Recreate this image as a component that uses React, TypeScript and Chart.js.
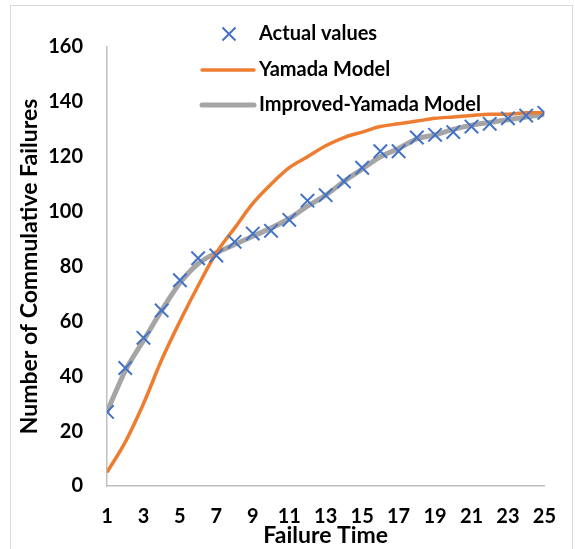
import React, { useEffect, useRef } from "react";
import { Chart, registerables } from "chart.js";

Chart.register(...registerables);

const failureTimes = [1, 2, 3, 4, 5, 6, 7, 8, 9, 10, 11, 12, 13, 14, 15, 16, 17, 18, 19, 20, 21, 22, 23, 24, 25];
const actualValues = [27, 43, 54, 64, 75, 83, 84, 89, 92, 93, 97, 104, 106, 111, 116, 122, 122, 127, 128, 129, 131, 132, 134, 135, 136];
const yamadaModel = [5, 16, 30, 46, 60, 73, 85, 94, 103, 110, 116, 120, 124, 127, 129, 131, 132, 133, 134, 134.5, 135, 135.5, 135.5, 136, 136];
const improvedYamada = [27, 42, 53, 64, 74, 81, 85, 88, 91, 94, 97.5, 102, 106, 111, 115.5, 120, 123, 126.5, 128, 130, 131.5, 132.5, 133.5, 134.5, 135.5];
const seriesNames = ["Actual values", "Yamada Model", "Improved-Yamada Model"];
const yTitle = "Number of Commulative Failures";
const xTitle = "Failure Time";

const FONT = "Lato";
const BLUE = "#4472C4";
const ORANGE = "#ED7D31";
const GRAY = "#A5A5A5";

const toPoints = (ys: number[]) => failureTimes.map((x, i) => ({ x, y: ys[i] }));

const legendPlugin = {
  id: "insideLegend",
  afterDraw(chart: any) {
    const ctx = chart.ctx;
    const rows = [34, 70, 105];
    const lineX0 = 202;
    const lineX1 = 254;
    const textX = 259;
    ctx.save();
    chart.data.datasets.forEach((ds: any, i: number) => {
      const y = rows[i];
      if (ds.showLine === false) {
        const cx = (lineX0 + lineX1) / 2 + 1;
        const r = 6.5;
        ctx.strokeStyle = ds.pointBorderColor || ds.borderColor;
        ctx.lineWidth = ds.pointBorderWidth || 2;
        ctx.beginPath();
        ctx.moveTo(cx - r, y - r);
        ctx.lineTo(cx + r, y + r);
        ctx.moveTo(cx + r, y - r);
        ctx.lineTo(cx - r, y + r);
        ctx.stroke();
      } else {
        ctx.strokeStyle = ds.borderColor;
        ctx.lineWidth = ds.borderWidth;
        ctx.lineCap = "round";
        ctx.beginPath();
        ctx.moveTo(lineX0, y);
        ctx.lineTo(lineX1, y);
        ctx.stroke();
      }
      ctx.fillStyle = "#000";
      ctx.font = `bold 20px ${FONT}`;
      ctx.textAlign = "left";
      ctx.textBaseline = "middle";
      ctx.fillText(ds.label, textX, y);
    });
    ctx.restore();
  },
};

export default function App() {
  const canvasRef = useRef<HTMLCanvasElement | null>(null);

  useEffect(() => {
    const canvas = canvasRef.current;
    if (!canvas) return;
    const chart = new Chart(canvas, {
      type: "line",
      data: {
        datasets: [
          {
            label: seriesNames[0],
            data: toPoints(actualValues),
            showLine: false,
            borderColor: BLUE,
            backgroundColor: BLUE,
            pointStyle: "crossRot",
            pointRadius: 9.5,
            pointBorderWidth: 2,
            pointBorderColor: BLUE,
          },
          {
            label: seriesNames[1],
            data: toPoints(yamadaModel),
            borderColor: ORANGE,
            backgroundColor: ORANGE,
            borderWidth: 3.5,
            pointRadius: 0,
            tension: 0.4,
            cubicInterpolationMode: "monotone",
          },
          {
            label: seriesNames[2],
            data: toPoints(improvedYamada),
            borderColor: GRAY,
            backgroundColor: GRAY,
            borderWidth: 5,
            pointRadius: 0,
            tension: 0.4,
            cubicInterpolationMode: "monotone",
          },
        ],
      },
      options: {
        animation: false,
        responsive: false,
        maintainAspectRatio: false,
        layout: { padding: { top: 47, right: 28, bottom: 0, left: 0 } },
        plugins: { legend: { display: false }, tooltip: { enabled: false } },
        scales: {
          x: {
            type: "linear",
            min: 1,
            max: 25,
            grid: { display: false, drawTicks: false },
            border: { display: true, color: "#BFBFBF", width: 1.5 },
            ticks: {
              stepSize: 2,
              padding: 19,
              color: "#000",
              font: { family: FONT, size: 20, weight: "bold" },
              maxRotation: 0,
            },
            title: {
              display: true,
              text: xTitle,
              color: "#000",
              font: { family: FONT, size: 23, weight: "bold" },
              padding: { top: 0, bottom: 0 },
            },
            afterFit: (s: any) => {
              s.height = 63;
            },
          },
          y: {
            type: "linear",
            min: 0,
            max: 160,
            grid: { display: false, drawTicks: false },
            border: { display: true, color: "#BFBFBF", width: 1.5 },
            ticks: {
              stepSize: 20,
              padding: 24,
              color: "#000",
              font: { family: FONT, size: 20, weight: "bold" },
            },
            title: {
              display: true,
              text: yTitle,
              color: "#000",
              font: { family: FONT, size: 23, weight: "bold" },
              padding: { top: 16, bottom: 0 },
            },
            afterFit: (s: any) => {
              s.width = 107;
            },
          },
        },
      },
      plugins: [legendPlugin],
    });
    return () => chart.destroy();
  }, []);

  return (
    <div style={{ position: "absolute", left: 0, top: 0, width: 575, height: 549, background: "#fff" }}>
      <div
        style={{
          position: "absolute",
          left: 10,
          top: 5,
          width: 563,
          height: 550,
          border: "1px solid #D9D9D9",
          boxSizing: "border-box",
        }}
      />
      <canvas ref={canvasRef} width={575} height={549} style={{ position: "absolute", left: 0, top: 0 }} />
    </div>
  );
}
